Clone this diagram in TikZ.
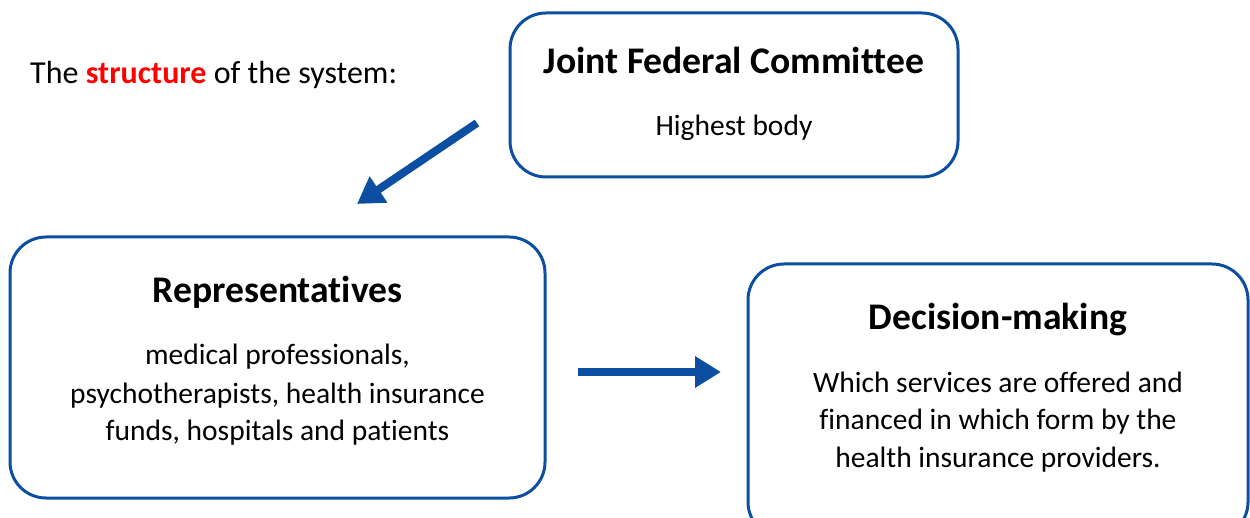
\documentclass[tikz,border=0pt]{standalone}
\usepackage{fontspec}
\setmainfont[Ligatures={NoCommon}]{Carlito}
\usetikzlibrary{arrows.meta}
\definecolor{boxblue}{RGB}{11,78,162}
\definecolor{redtxt}{RGB}{255,0,0}
\tikzset{
  box/.style={draw=boxblue, line width=3pt, rounded corners=36pt, inner sep=0pt},
  title/.style={anchor=base, font=\fontsize{37.6}{46}\selectfont\bfseries, inner sep=0pt},
  body/.style={anchor=base, font=\fontsize{29.5}{36}\selectfont, inner sep=0pt},
  bigarrow/.style={draw=boxblue, line width=8pt, -{Triangle[length=26pt, width=30pt]}}
}
\begin{document}
\begin{tikzpicture}[x=1pt, y=-1pt]
\useasboundingbox (0,0) rectangle (1250,518);
\node[box, minimum width=448pt, minimum height=164pt] (jfc) at (734,95) {};
\node[box, minimum width=535pt, minimum height=261pt] (rep) at (277.5,367.5) {};
\node[box, minimum width=500pt, minimum height=274pt] (dec) at (998,401) {};

\node[body, anchor=base west, font=\fontsize{32}{38}\selectfont] (intro) at (30,84) {The \textcolor{redtxt}{\textbf{structure}} of the system:};

\node[title] (jfct) at (734,74) {Joint Federal Committee};
\node[body] (jfcb) at (734,136) {Highest body};

\node[title] (rept) at (277.5,303) {Representatives};
\node[body] (rep1) at (277.5,365) {medical professionals,};
\node[body] (rep2) at (277.5,403) {psychotherapists, health insurance};
\node[body] (rep3) at (277.5,440) {funds, hospitals and patients};

\node[title] (dect) at (998,330) {Decision-making};
\node[body] (dec1) at (998,392) {Which services are offered and};
\node[body] (dec2) at (998,429) {financed in which form by the};
\node[body] (dec3) at (998,467) {health insurance providers.};

\coordinate (a1s) at (477,123);
\coordinate (a1e) at (357,204);
\coordinate (a2s) at (578,372);
\coordinate (a2e) at (721,372);
\draw[bigarrow] (a1s) -- (a1e);
\draw[bigarrow] (a2s) -- (a2e);
\end{tikzpicture}
\end{document}
